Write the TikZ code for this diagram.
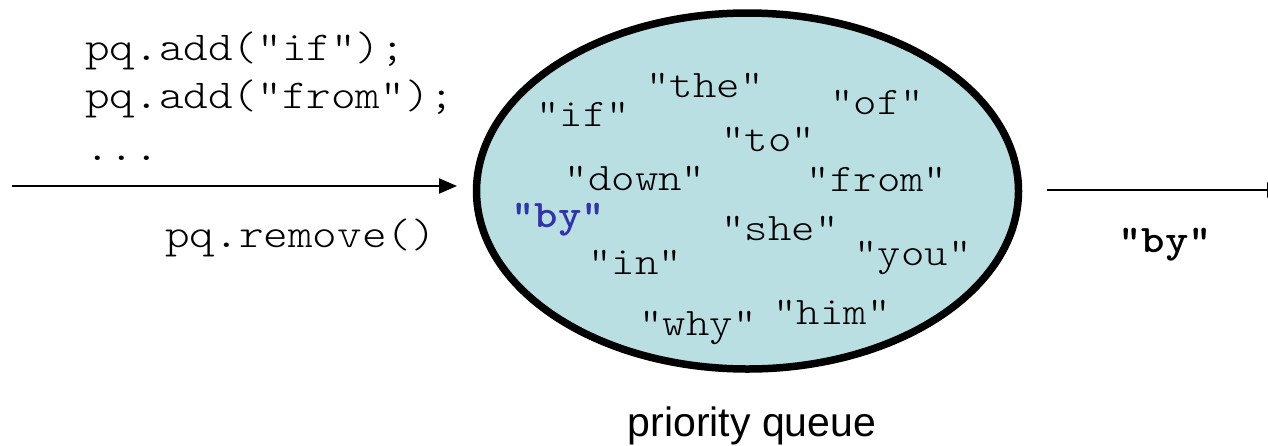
\documentclass[tikz,border=0pt]{standalone}
\usepackage{fontspec}
\setmainfont{Liberation Sans}
\setmonofont{lmmonolt10-regular.otf}[BoldFont=lmmonolt10-bold.otf, FakeStretch=1.143]
\usetikzlibrary{arrows.meta,shapes.geometric}
\definecolor{queuefill}{RGB}{185,223,227}
\definecolor{minblue}{RGB}{51,51,170}
\tikzset{
  code/.style={font=\ttfamily\fontsize{41}{46}\selectfont, inner sep=0pt, anchor=base west},
  word/.style={font=\ttfamily\fontsize{39}{44}\selectfont, inner sep=0pt, anchor=base},
  boldword/.style={word, font=\ttfamily\bfseries\fontsize{39}{44}\selectfont},
  flow/.style={line width=2pt, -{Triangle[length=18pt,width=15pt]}},
}
\begin{document}
\begin{tikzpicture}[x=1pt,y=-1pt]
  \useasboundingbox (0,0) rectangle (1268,445);

  % the queue itself
  \node (pq) [ellipse, draw, line width=7.5pt, fill=queuefill,
              minimum width=542pt, minimum height=356pt, inner sep=0pt] at (747.5,191) {};

  % operations on the left
  \node (add1) [code] at (85,60) {pq.add("if");};
  \node (add2) [code] at (85,108) {pq.add("from");};
  \node (dots) [code] at (85,160) {...};
  \node (rem)  [code] at (165,247) {pq.remove()};

  % contents of the queue
  \node (wthe)  [word] at (705,97)  {"the"};
  \node (wif)   [word] at (583,126) {"if"};
  \node (wof)   [word] at (877,114) {"of"};
  \node (wto)   [word] at (768,151) {"to"};
  \node (wdown) [word] at (635,190) {"down"};
  \node (wfrom) [word] at (877,191) {"from"};
  \node (wby)   [boldword, text=minblue] at (558,227) {"by"};
  \node (wshe)  [word] at (780,240) {"she"};
  \node (win)   [word] at (635,274) {"in"};
  \node (wyou)  [word] at (913,265) {"you"};
  \node (wwhy)  [word] at (698,335) {"why"};
  \node (whim)  [word] at (832,324) {"him"};

  \node (cap) [font=\fontsize{41}{46}\selectfont, inner sep=0pt, anchor=base] at (752,436) {priority queue};

  % result on the right
  \node (out) [boldword] at (1165,252) {"by"};

  % arrows in and out
  \coordinate (inStart) at (12,186);
  \coordinate (inEnd) at (457,186);
  \coordinate (outStart) at (1047,190);
  \coordinate (outEnd) at (1285,190);
  \draw[flow] (inStart) -- (inEnd);
  \draw[flow] (outStart) -- (outEnd);
\end{tikzpicture}
\end{document}
